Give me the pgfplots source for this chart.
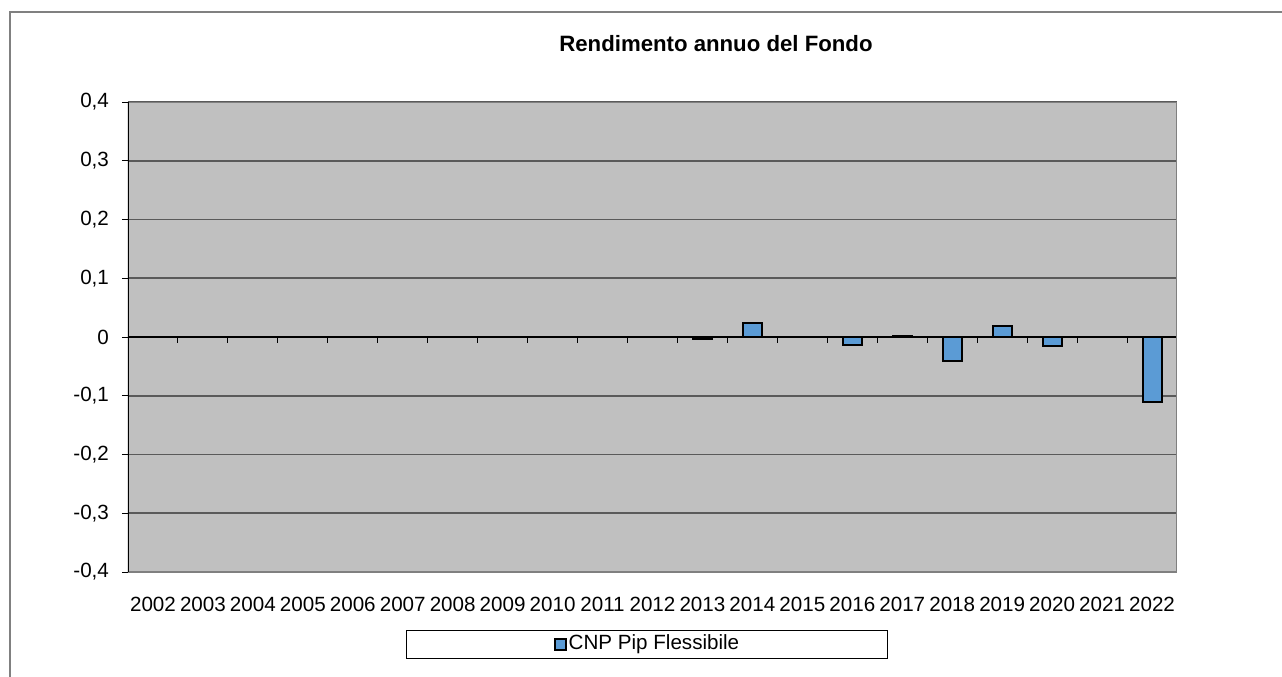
\documentclass[border=0pt]{standalone}
\usepackage{fontspec}
\setmainfont{Liberation Sans}
\usepackage{pgfplots}
\pgfplotsset{compat=1.18}
\definecolor{plotbg}{RGB}{192,192,192}
\definecolor{barblue}{RGB}{91,155,213}
\definecolor{framegray}{RGB}{128,128,128}
\definecolor{gridgray}{RGB}{90,90,90}
\begin{document}
\begin{tikzpicture}
\path[use as bounding box] (-64pt,-52pt) rectangle (577pt,286pt);
\draw[framegray, line width=0.6pt] (-59pt,-53pt) -- (-59pt,280pt) -- (578pt,280pt);
\begin{axis}[
  at={(0,0)}, anchor=south west,
  scale only axis, width=524.5pt, height=235pt,
  font=\fontsize{10.3}{12}\selectfont,
  axis background/.style={fill=plotbg},
  axis line style={draw=none},
  xmin=-0.5, xmax=20.5,
  ymin=-0.4, ymax=0.4,
  xtick={0,...,20},
  xticklabels={2002,2003,2004,2005,2006,2007,2008,2009,2010,2011,2012,2013,2014,2015,2016,2017,2018,2019,2020,2021,2022},
  x tick label style={yshift=-6pt},
  xtick style={draw=none},
  ytick={-0.4,-0.3,...,0.4},
  yticklabels={{-0,4},{-0,3},{-0,2},{-0,1},0,{0,1},{0,2},{0,3},{0,4}},
  ytick pos=left, tick align=outside,
  ytick style={black, line width=0.5pt},
  major tick length=3pt,
  y tick label style={xshift=-3pt},
  ymajorgrids,
  major grid style={gridgray, line width=0.8pt},
  ybar, bar width=9.5pt,
  title={\bfseries Rendimento annuo del Fondo},
  title style={at={(0.5605,1.0979)}, anchor=center, font=\fontsize{11.1}{13}\selectfont},
  legend style={at={(0.4952,-0.1532)}, anchor=center, draw=black, line width=0.5pt,
    minimum width=240.5pt, minimum height=14pt, inner sep=0pt,
    nodes={minimum width=0pt, minimum height=0pt, inner sep=1pt},
    font=\fontsize{10.3}{12}\selectfont},
  legend image code/.code={\draw[#1] (0pt,-2.75pt) rectangle (5.5pt,2.75pt);},
]
\addplot[fill=barblue, draw=black, line width=1pt, bar shift=0pt]
  coordinates {(11,-0.003) (12,0.024) (14,-0.013) (15,0.002) (16,-0.0415) (17,0.018) (18,-0.0153) (20,-0.111)};
\addlegendentry{CNP Pip Flessibile}
\draw[black, line width=0.7pt] (axis cs:-0.5,0) -- (axis cs:20.5,0);
\pgfplotsinvokeforeach{0.5,1.5,...,19.5}{\draw[black, line width=0.5pt] (axis cs:#1,0) -- ++(0pt,-3pt);}
\draw[framegray, line width=1.2pt] (rel axis cs:0,1) -- (rel axis cs:1,1) -- (rel axis cs:1,0) -- (rel axis cs:0,0);
\draw[black, line width=0.6pt] (rel axis cs:0,0) -- (rel axis cs:0,1);
\end{axis}
\end{tikzpicture}
\end{document}
